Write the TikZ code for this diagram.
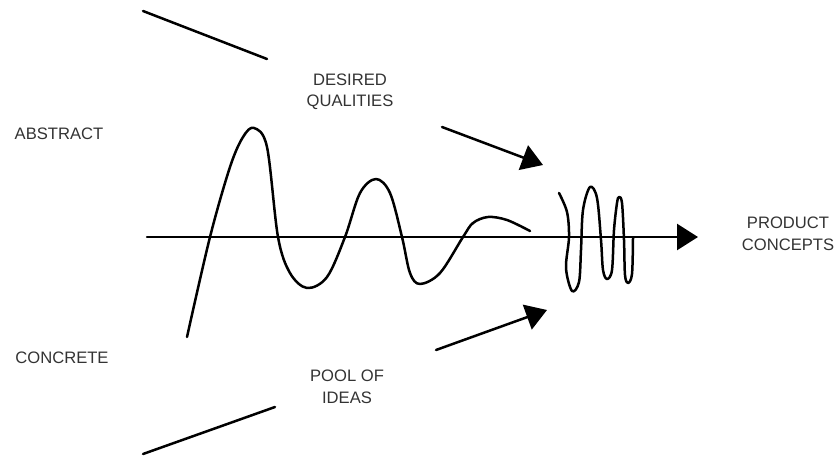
\documentclass[tikz,border=0pt]{standalone}
\usepackage{fontspec}
\setmainfont{Liberation Sans}
\usetikzlibrary{arrows.meta}
\begin{document}
\begin{tikzpicture}[x=1pt,y=-1pt,
  label/.style={font=\fontsize{16.6}{21.5}\selectfont,text=black!80,align=center,inner sep=0pt},
  stroke/.style={line width=2.5pt,line cap=round,line join=round},
  arrowline/.style={stroke,-{Triangle[length=21pt,width=26pt]}}]
\useasboundingbox (0,0) rectangle (837,457);
% labels
\node[label] (abstract) at (59,134) {ABSTRACT};
\node[label] (concrete) at (62,358) {CONCRETE};
\node[label] (desired) at (350,92) {DESIRED\\QUALITIES};
\node[label] (pool) at (347,387) {POOL OF\\IDEAS};
\node[label] (product) at (788,234) {PRODUCT\\CONCEPTS};
% end points of the free lines
\coordinate (axisL) at (147,237);
\coordinate (axisR) at (698,237);
\coordinate (topA) at (143,11);
\coordinate (topB) at (267,59);
\coordinate (botA) at (143,454);
\coordinate (botB) at (275,407);
\coordinate (inA) at (442,127);
\coordinate (inB) at (543,165);
\coordinate (upA) at (436,350);
\coordinate (upB) at (547,310);
\draw[stroke] (topA)--(topB);
\draw[stroke] (botA)--(botB);
\draw[arrowline] (inA)--(inB);
\draw[arrowline] (upA)--(upB);
\draw[arrowline] (axisL)--(axisR);
% damped wave
\draw[stroke] plot[smooth,tension=0.55] coordinates {(187,337) (210,237) (230,167) (243,137)
  (254,128) (267,147) (278,237) (290,273) (307,288) (327,277) (345,237) (360,193) (376,179)
  (390,193) (402,237) (410,273) (420,284) (440,273) (463,237) (473,223) (488,217) (507,220) (530,231)};
% converged squiggle
\draw[stroke] plot[smooth,tension=0.55] coordinates {(559,193) (567,212) (569,237) (566,268)
  (572,291) (579,282) (581,250) (583,210) (590,187) (597,198) (601,240) (603,270) (607,279)
  (612,270) (614,230) (617,203) (619,197) (622,203) (624,240) (625,275) (628,283) (632,274) (633,238)};
\end{tikzpicture}
\end{document}
